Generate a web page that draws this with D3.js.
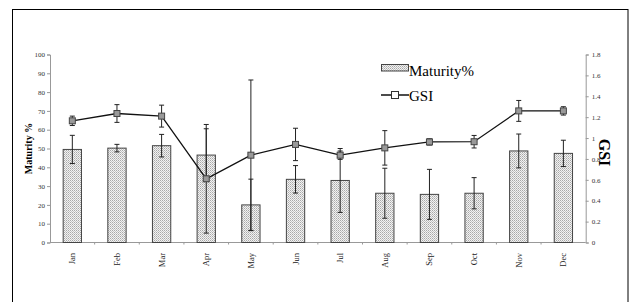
<!DOCTYPE html>
<html>
<head>
<meta charset="utf-8">
<script src="https://cdn.jsdelivr.net/npm/d3@7"></script>
<style>
  body { margin: 0; background: #fff; }
  text { font-family: "Liberation Serif", "Times New Roman", serif; }
</style>
</head>
<body>
<div id="chart"></div>
<script>
const months = ["Jan", "Feb", "Mar", "Apr", "May", "Jun", "Jul", "Aug", "Sep", "Oct", "Nov", "Dec"];
const maturity = [49.5, 50.2, 51.5, 46.5, 20, 33.6, 33, 26.2, 25.6, 26.2, 48.7, 47.4];
const maturityErr = [7.5, 2, 6, 14, 13.7, 7.3, 17, 13.3, 13.3, 8.3, 9, 7];
const gsi = [1.165, 1.235, 1.21, 0.61, 0.836, 0.939, 0.836, 0.906, 0.963, 0.965, 1.26, 1.26];
const gsiErr = [0.045, 0.085, 0.105, 0.52, 0.72, 0.155, 0.04, 0.165, 0.03, 0.06, 0.1, 0.04];
const leftTicks = [0, 10, 20, 30, 40, 50, 60, 70, 80, 90, 100];
const rightTicks = [0, 0.2, 0.4, 0.6, 0.8, 1, 1.2, 1.4, 1.6, 1.8];

const W = 633, H = 302;
const margin = {top: 54.5, right: 47.3, bottom: 59.5, left: 50};

const svg = d3.select("#chart").append("svg")
    .attr("width", W)
    .attr("height", H);

// dotted fill like the Excel pattern
const defs = svg.append("defs");
const pat = defs.append("pattern")
    .attr("id", "dots")
    .attr("width", 2).attr("height", 2)
    .attr("patternUnits", "userSpaceOnUse");
pat.append("rect").attr("width", 2).attr("height", 2).attr("fill", "#f2f2f2");
pat.append("rect").attr("width", 1).attr("height", 1).attr("fill", "#a8a8a8");
pat.append("rect").attr("x", 1).attr("y", 1).attr("width", 1).attr("height", 1).attr("fill", "#c4c4c4");

// outer frame
svg.append("rect")
    .attr("x", 12.5).attr("y", 9.5)
    .attr("width", 615.5).attr("height", 300)
    .attr("fill", "none").attr("stroke", "#000").attr("stroke-width", 1);

const x = d3.scaleBand()
    .domain(months)
    .range([margin.left, W - margin.right])
    .paddingInner(0.59)
    .paddingOuter(0.295);

const xOuter = d3.scaleBand()
    .domain(months)
    .range([margin.left, W - margin.right]);

const yL = d3.scaleLinear().domain([0, 100]).range([H - margin.bottom, margin.top]);
const yR = d3.scaleLinear().domain([0, 1.8]).range([H - margin.bottom, margin.top]);

// axes
const axisColor = "#999";
const gLeft = svg.append("g")
    .attr("transform", `translate(${margin.left},0)`)
    .call(d3.axisLeft(yL).tickValues(leftTicks).tickSize(3).tickPadding(2));
const gRight = svg.append("g")
    .attr("transform", `translate(${W - margin.right},0)`)
    .call(d3.axisRight(yR).tickValues(rightTicks).tickSize(3).tickPadding(3)
        .tickFormat(d => d3.format("~g")(d)));
[gLeft, gRight].forEach(g => {
    g.select(".domain").attr("stroke", axisColor);
    g.selectAll(".tick line").attr("stroke", axisColor);
    g.selectAll(".tick text")
        .attr("font-family", "Liberation Serif, serif")
        .attr("font-size", 7)
        .attr("fill", "#333");
});

// x axis line with tick marks between categories
const baseY = yL(0);
svg.append("line")
    .attr("x1", margin.left).attr("x2", W - margin.right)
    .attr("y1", baseY).attr("y2", baseY)
    .attr("stroke", axisColor);
svg.append("g").selectAll("line")
    .data(months.slice(1))
    .join("line")
    .attr("x1", d => xOuter(d)).attr("x2", d => xOuter(d))
    .attr("y1", baseY).attr("y2", baseY + 2)
    .attr("stroke", axisColor);

svg.append("g").selectAll("text")
    .data(months)
    .join("text")
    .attr("transform", d => `translate(${xOuter(d) + xOuter.bandwidth() / 2 + 3},253) rotate(-90)`)
    .attr("text-anchor", "end")
    .attr("font-size", 8.5)
    .attr("fill", "#222")
    .text(d => d);

// bars
svg.append("g").selectAll("rect")
    .data(months)
    .join("rect")
    .attr("x", d => x(d))
    .attr("y", (d, i) => yL(maturity[i]))
    .attr("width", x.bandwidth())
    .attr("height", (d, i) => baseY - yL(maturity[i]))
    .attr("fill", "url(#dots)")
    .attr("stroke", "#444")
    .attr("stroke-width", 1);

function errorBars(vals, errs, scale) {
    const g = svg.append("g").attr("stroke", "#222").attr("stroke-width", 1);
    months.forEach((m, i) => {
        const cx = xOuter(m) + xOuter.bandwidth() / 2;
        const y1 = scale(vals[i] + errs[i]), y2 = scale(vals[i] - errs[i]);
        g.append("line").attr("x1", cx).attr("x2", cx).attr("y1", y1).attr("y2", y2);
        g.append("line").attr("x1", cx - 2.5).attr("x2", cx + 2.5).attr("y1", y1).attr("y2", y1);
        g.append("line").attr("x1", cx - 2.5).attr("x2", cx + 2.5).attr("y1", y2).attr("y2", y2);
    });
}
errorBars(maturity, maturityErr, yL);
errorBars(gsi, gsiErr, yR);

// GSI line
const line = d3.line()
    .x((d, i) => xOuter(months[i]) + xOuter.bandwidth() / 2)
    .y(d => yR(d));
svg.append("path")
    .datum(gsi)
    .attr("d", line)
    .attr("fill", "none")
    .attr("stroke", "#111")
    .attr("stroke-width", 1.3);

svg.append("g").selectAll("rect")
    .data(gsi)
    .join("rect")
    .attr("x", (d, i) => xOuter(months[i]) + xOuter.bandwidth() / 2 - 3)
    .attr("y", d => yR(d) - 3)
    .attr("width", 6).attr("height", 6)
    .attr("fill", "#999")
    .attr("stroke", "#444")
    .attr("stroke-width", 1);

// axis titles
svg.append("text")
    .attr("transform", `translate(32,${(margin.top + baseY) / 2}) rotate(-90)`)
    .attr("text-anchor", "middle")
    .attr("font-size", 10)
    .attr("font-weight", "bold")
    .text("Maturity %");
svg.append("text")
    .attr("transform", `translate(599,${(margin.top + baseY) / 2 + 4}) rotate(90)`)
    .attr("text-anchor", "middle")
    .attr("font-size", 16)
    .attr("font-weight", "bold")
    .text("GSI");

// legend
const leg = svg.append("g");
leg.append("rect")
    .attr("x", 381.5).attr("y", 64.5).attr("width", 27).attr("height", 6.5)
    .attr("fill", "url(#dots)").attr("stroke", "#444");
leg.append("text").attr("x", 409).attr("y", 76)
    .attr("font-size", 15).text("Maturity%");
leg.append("line")
    .attr("x1", 381).attr("x2", 409).attr("y1", 95).attr("y2", 95)
    .attr("stroke", "#111").attr("stroke-width", 1.5);
leg.append("rect")
    .attr("x", 391.5).attr("y", 91.5).attr("width", 7).attr("height", 7)
    .attr("fill", "#fff").attr("stroke", "#333").attr("stroke-width", 1);
leg.append("text").attr("x", 409).attr("y", 101)
    .attr("font-size", 15).text("GSI");
</script>
</body>
</html>
